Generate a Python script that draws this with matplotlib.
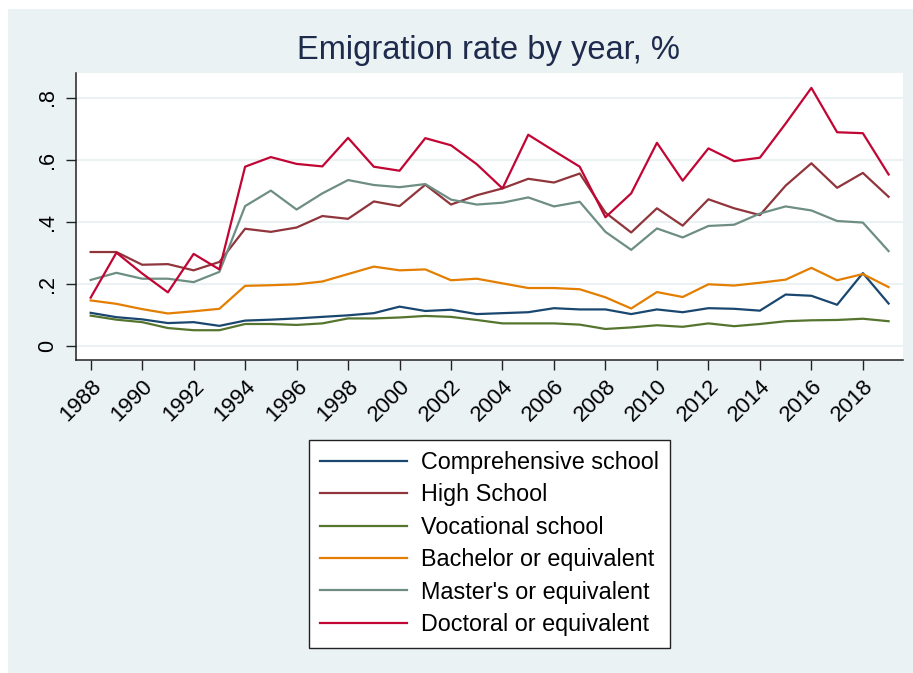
import numpy as np
import matplotlib
matplotlib.use('Agg')
import matplotlib.pyplot as plt
from matplotlib.patches import Rectangle

plt.rcParams['font.family'] = ['Liberation Sans', 'DejaVu Sans']

years = list(range(1988, 2020))

# rates
comprehensive = [0.106, 0.092, 0.085, 0.073, 0.076, 0.064, 0.081, 0.084, 0.088, 0.093,
                 0.098, 0.105, 0.126, 0.112, 0.116, 0.102, 0.105, 0.108, 0.121, 0.117,
                 0.117, 0.102, 0.117, 0.108, 0.121, 0.119, 0.113, 0.165, 0.161, 0.132,
                 0.234, 0.136]
high_school = [0.302, 0.302, 0.261, 0.263, 0.243, 0.270, 0.377, 0.367, 0.381, 0.418,
               0.409, 0.465, 0.450, 0.519, 0.455, 0.485, 0.507, 0.538, 0.526, 0.555,
               0.429, 0.365, 0.443, 0.387, 0.472, 0.443, 0.421, 0.516, 0.588, 0.509,
               0.557, 0.480]
vocational = [0.097, 0.084, 0.076, 0.057, 0.050, 0.050, 0.070, 0.070, 0.067, 0.072,
              0.088, 0.088, 0.091, 0.096, 0.093, 0.083, 0.072, 0.072, 0.072, 0.068,
              0.054, 0.059, 0.066, 0.061, 0.072, 0.063, 0.070, 0.079, 0.082, 0.083,
              0.087, 0.079]
bachelor = [0.146, 0.135, 0.118, 0.104, 0.111, 0.119, 0.193, 0.195, 0.198, 0.207,
            0.231, 0.255, 0.243, 0.246, 0.211, 0.216, 0.201, 0.186, 0.186, 0.182,
            0.156, 0.120, 0.173, 0.157, 0.198, 0.194, 0.203, 0.213, 0.251, 0.211,
            0.231, 0.189]
master = [0.212, 0.235, 0.216, 0.216, 0.205, 0.238, 0.450, 0.500, 0.439, 0.491,
          0.534, 0.518, 0.511, 0.521, 0.471, 0.455, 0.461, 0.478, 0.449, 0.464,
          0.367, 0.309, 0.378, 0.349, 0.386, 0.390, 0.426, 0.449, 0.436, 0.402,
          0.397, 0.305]
doctoral = [0.155, 0.300, 0.233, 0.172, 0.296, 0.246, 0.577, 0.608, 0.586, 0.578,
            0.670, 0.577, 0.564, 0.669, 0.646, 0.585, 0.507, 0.680, 0.628, 0.577,
            0.414, 0.491, 0.654, 0.532, 0.636, 0.595, 0.606, 0.716, 0.831, 0.688,
            0.685, 0.552]

labels = ['Comprehensive school', 'High School', 'Vocational school',
          'Bachelor or equivalent', "Master's or equivalent", 'Doctoral or equivalent']
colors = ['#1A476F', '#90353B', '#55752F', '#E37E00', '#6E8E84', '#C10534']
series = [comprehensive, high_school, vocational, bachelor, master, doctoral]

yticks = [0, 0.2, 0.4, 0.6, 0.8]
ytick_labels = ['0', '.2', '.4', '.6', '.8']
xticks = list(range(1988, 2019, 2))

bg = '#EAF2F3'
fig = plt.figure(figsize=(9.13, 6.73), dpi=100, facecolor='white')
fig.patches.append(Rectangle((8 / 913, 0), 1, 1 - 9 / 673, transform=fig.transFigure,
                             facecolor=bg, edgecolor='none', zorder=-10))

ax = fig.add_axes([76 / 913, 1 - 360 / 673, (903 - 76) / 913, (360 - 73) / 673])
ax.set_facecolor('white')
for s, c, l in zip(series, colors, labels):
    ax.plot(years, s, color=c, lw=1.6, label=l)

ax.set_xlim(1987.43, 2019.56)
ax.set_ylim(-0.046, 0.879)
ax.set_yticks(yticks)
ax.set_yticklabels(ytick_labels, rotation=90, va='center')
ax.set_xticks(xticks)
ax.set_xticklabels([str(x) for x in xticks], rotation=45, ha='right', rotation_mode='anchor')
ax.tick_params(axis='both', length=7, width=1, color='#222222')
ax.tick_params(axis='y', pad=6, labelsize=15.5)
ax.tick_params(axis='x', pad=4, labelsize=16)
ax.grid(axis='y', color=bg, lw=1.5)
ax.set_axisbelow(True)
for sp in ['top', 'right']:
    ax.spines[sp].set_visible(False)
for sp in ['left', 'bottom']:
    ax.spines[sp].set_color('#222222')
    ax.spines[sp].set_linewidth(1.1)

fig.text(488 / 913, 1 - 50 / 673, 'Emigration rate by year, %', ha='center', va='center',
         fontsize=23.5, color='#1E2B4D')

h, l = ax.get_legend_handles_labels()
leg = fig.legend(h, l, loc='center', bbox_to_anchor=(489.5 / 913, 1 - 543.5 / 673),
                 fontsize=16.8, frameon=True, fancybox=False, edgecolor='#222222',
                 framealpha=1, facecolor='white',
                 handlelength=3.7, handletextpad=0.6, labelspacing=0.4,
                 borderpad=0.5, borderaxespad=0)
leg.get_frame().set_linewidth(1.0)
for line in leg.get_lines():
    line.set_linewidth(1.6)

fig.savefig('out.png', dpi=100, facecolor=fig.get_facecolor())
